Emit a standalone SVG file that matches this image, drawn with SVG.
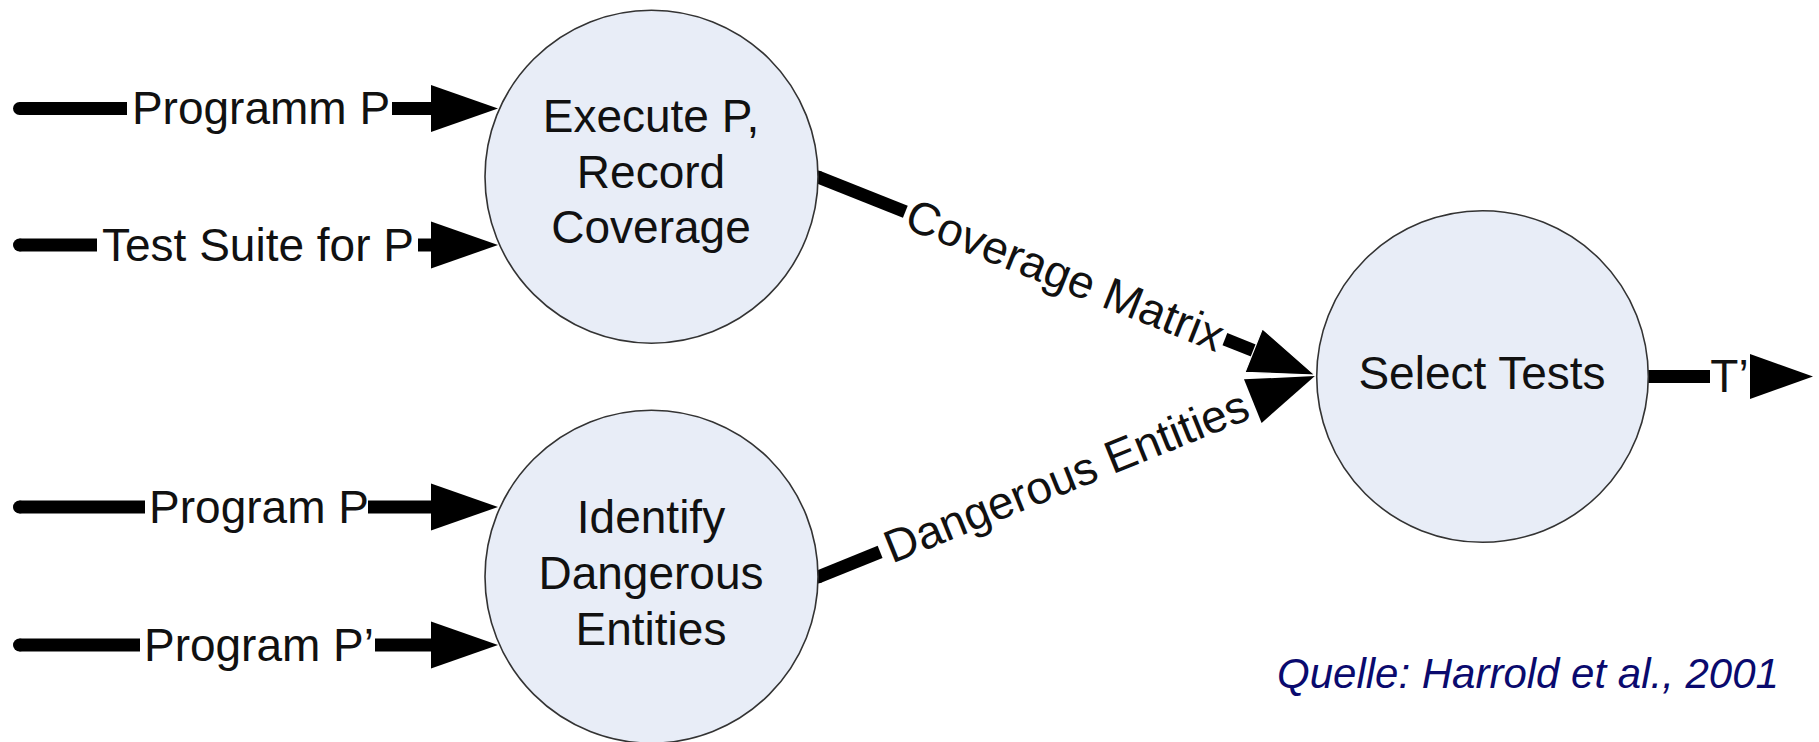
<svg xmlns="http://www.w3.org/2000/svg" width="1819" height="742" viewBox="0 0 1819 742">
  <style>
    .node { fill: #e8edf7; stroke: #333333; stroke-width: 1.6; }
    .ntext { font-family: "Liberation Sans", Arial, sans-serif; font-size: 46px; fill: #111111; text-anchor: middle; }
    .ltext { font-family: "Liberation Sans", Arial, sans-serif; font-size: 46px; fill: #111111; text-anchor: middle; }
    .seg { stroke: #000000; stroke-width: 13; stroke-linecap: butt; fill: none; }
    .dot { fill: #000000; }
    .head { fill: #000000; }
    .src { font-family: "Liberation Sans", Arial, sans-serif; font-size: 42px; font-style: italic; fill: #0a0a6e; }
  </style>
  <rect x="0" y="0" width="1819" height="742" fill="#ffffff"/>

  <g id="connectors">
    <!-- Programm P -->
    <g id="c-programm-p">
      <circle class="dot" cx="19.5" cy="108.5" r="6.5"/>
      <line class="seg" x1="19.5" y1="108.5" x2="127" y2="108.5"/>
      <text class="ltext" x="261" y="124">Programm P</text>
      <line class="seg" x1="392" y1="108.5" x2="432" y2="108.5"/>
      <polygon class="head" points="431,85 498,108.5 431,132"/>
    </g>
    <!-- Test Suite for P -->
    <g id="c-test-suite">
      <circle class="dot" cx="19.5" cy="245" r="6.5"/>
      <line class="seg" x1="19.5" y1="245" x2="97" y2="245"/>
      <text class="ltext" x="258" y="260.5">Test Suite for P</text>
      <line class="seg" x1="418" y1="245" x2="432" y2="245"/>
      <polygon class="head" points="431,221.5 498,245 431,268.5"/>
    </g>
    <!-- Program P -->
    <g id="c-program-p">
      <circle class="dot" cx="19.5" cy="507" r="6.5"/>
      <line class="seg" x1="19.5" y1="507" x2="145" y2="507"/>
      <text class="ltext" x="259" y="522.5">Program P</text>
      <line class="seg" x1="368" y1="507" x2="432" y2="507"/>
      <polygon class="head" points="431,483.5 498,507 431,530.5"/>
    </g>
    <!-- Program P' -->
    <g id="c-program-p2">
      <circle class="dot" cx="19.5" cy="645" r="6.5"/>
      <line class="seg" x1="19.5" y1="645" x2="140" y2="645"/>
      <text class="ltext" x="259" y="660.5">Program P’</text>
      <line class="seg" x1="375" y1="645" x2="432" y2="645"/>
      <polygon class="head" points="431,621.5 498,645 431,668.5"/>
    </g>
    <!-- Dangerous Entities -->
    <g id="c-dangerous" transform="translate(818 577) rotate(-22.02)">
      <circle class="dot" cx="0" cy="0" r="6.5"/>
      <line class="seg" x1="0" y1="0" x2="67" y2="0"/>
      <text class="ltext" x="268" y="15.5">Dangerous Entities</text>
      <polygon class="head" points="469,-23.5 536,0 469,23.5"/>
    </g>
    <!-- Coverage Matrix -->
    <g id="c-coverage" transform="translate(818 177) rotate(21.72)">
      <circle class="dot" cx="0" cy="0" r="6.5"/>
      <line class="seg" x1="0" y1="0" x2="94" y2="0"/>
      <text class="ltext" x="266" y="15.5">Coverage Matrix</text>
      <line class="seg" x1="438" y1="0" x2="470" y2="0"/>
      <polygon class="head" points="469,-23.5 535,0 469,23.5" stroke="#ffffff" stroke-width="1.2"/>
    </g>
    <!-- T' -->
    <g id="c-t-prime">
      <circle class="dot" cx="1649" cy="376.5" r="6.5"/>
      <line class="seg" x1="1649" y1="376.5" x2="1710" y2="376.5"/>
      <text class="ltext" x="1729.5" y="392">T’</text>
      <polygon class="head" points="1750,354 1813,376.5 1750,399"/>
    </g>
  </g>

  <g id="node-execute">
    <circle class="node" cx="651.5" cy="176.7" r="166.5"/>
    <text class="ntext" x="651" y="132">Execute P,</text>
    <text class="ntext" x="651" y="188">Record</text>
    <text class="ntext" x="651" y="243">Coverage</text>
  </g>

  <g id="node-identify">
    <circle class="node" cx="651.5" cy="576.7" r="166.5"/>
    <text class="ntext" x="651" y="533">Identify</text>
    <text class="ntext" x="651" y="589">Dangerous</text>
    <text class="ntext" x="651" y="645">Entities</text>
  </g>

  <g id="node-select">
    <circle class="node" cx="1482.5" cy="376.5" r="165.8"/>
    <text class="ntext" x="1482" y="389">Select Tests</text>
  </g>

  <g id="source">
    <text class="src" x="1277" y="688">Quelle: Harrold et al., 2001</text>
  </g>
</svg>
